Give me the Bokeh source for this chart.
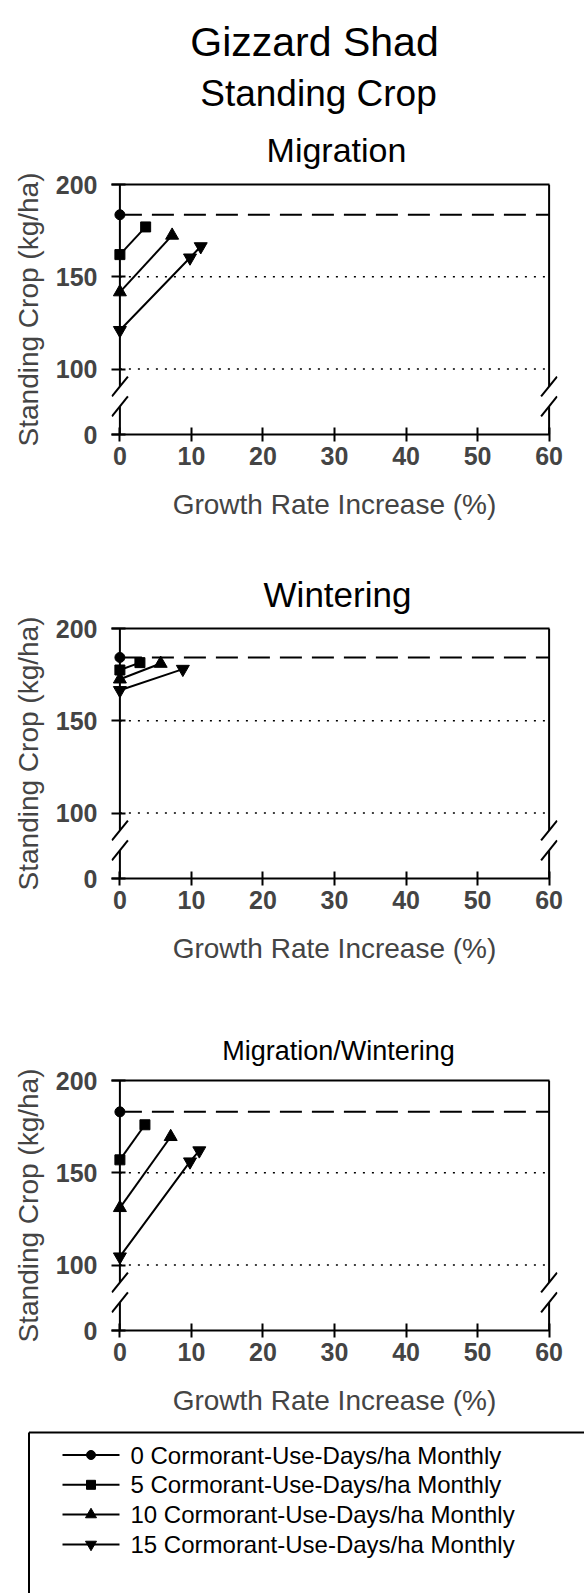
from bokeh.plotting import figure
from bokeh.models import Range1d, FixedTicker, LinearAxis
from bokeh.layouts import column
from bokeh.core.properties import value
from bokeh.embed import file_html
from bokeh.resources import INLINE

FONT = "Liberation Sans"
W = 584

# ---- axes -------------------------------------------------------------
x_ticks = [0, 10, 20, 30, 40, 50, 60]
y_major = [100, 150, 200]          # values shown above the axis break
y_grid = [100, 150]                # dotted reference levels
Y_ZERO = 64.5                      # plotted position of "0" below the break
BREAK_LO, BREAK_HI = 79.7, 90.5    # the two break slashes on the y axis

# ---- series (growth-rate increase %, standing crop kg/ha) -------------
cud_labels = [
    "0 Cormorant-Use-Days/ha Monthly",
    "5 Cormorant-Use-Days/ha Monthly",
    "10 Cormorant-Use-Days/ha Monthly",
    "15 Cormorant-Use-Days/ha Monthly",
]
cud_markers = ["circle", "square", "triangle", "inverted_triangle"]
marker_sizes = [10, 10, 13, 13]
legend_marker_sizes = [9, 9, 11, 11]

migration_x = [[0], [0, 3.6], [0, 7.3], [0, 9.8, 11.3]]
migration_y = [[183.6], [162.0, 177.0], [141.7, 172.4], [121.0, 160.3, 166.4]]

wintering_x = [[0], [0, 2.8], [0, 5.7], [0, 8.8]]
wintering_y = [[184.3], [177.5, 181.5], [172.5, 181.0], [166.5, 178.0]]

migwin_x = [[0], [0, 3.5], [0, 7.1], [0, 9.8, 11.1]]
migwin_y = [[183.0], [157.0, 176.0], [131.0, 169.5], [104.5, 156.0, 162.0]]

main_titles = ["Gizzard Shad", "Standing Crop"]
panel_titles = ["Migration", "Wintering", "Migration/Wintering"]

# ---- geometry ---------------------------------------------------------
PX_PER_X = 429.2 / 60.0
X_PAD = 8.4 / PX_PER_X             # room left/right of the 0..60 box
X_START, X_END = x_ticks[0] - X_PAD, x_ticks[-1] + X_PAD
SLASH_DX = 8.0 / PX_PER_X
SLASH_DY = 5.4


def free_frame(p):
    # keep each plot's frame independent of its neighbours in the column
    if "frame_align" in p.properties():
        p.frame_align = False


def text_strip(height):
    """A plain drawing area measured in pixels from its top-left corner."""
    h = figure(width=W, height=height, output_backend="svg", toolbar_location=None,
               x_range=Range1d(0, W), y_range=Range1d(height, 0),
               x_axis_location=None, y_axis_location=None,
               min_border_left=0, min_border_right=0, min_border_top=0, min_border_bottom=0)
    h.outline_line_color = None
    h.grid.visible = False
    h.background_fill_color = "white"
    h.border_fill_color = "white"
    free_frame(h)
    return h


def put_text(h, x, y, txt, size, align="center"):
    h.text(x=[x], y=[y], text=[txt], text_font=value(FONT), text_font_size=value(size),
           text_align=align, text_baseline="middle", text_color="black")


def make_panel(xs, ys, height, top, bottom):
    p = figure(width=W, height=height, output_backend="svg", toolbar_location=None,
               x_range=Range1d(X_START, X_END), y_range=Range1d(Y_ZERO, y_major[-1]),
               min_border_left=111, min_border_right=27,
               min_border_top=top, min_border_bottom=bottom)
    free_frame(p)
    p.outline_line_color = None
    p.grid.visible = False
    p.background_fill_color = "white"
    p.border_fill_color = "white"

    xa = p.xaxis[0]
    xa.ticker = FixedTicker(ticks=x_ticks)
    xa.bounds = (X_START, x_ticks[-1])
    xa.axis_line_width = 2
    xa.major_tick_line_width = 2
    xa.major_tick_in = 7
    xa.major_tick_out = 7
    xa.minor_tick_line_color = None
    xa.major_label_text_font = FONT
    xa.major_label_text_font_size = "25px"
    xa.major_label_text_font_style = "bold"
    xa.major_label_standoff = 5
    xa.axis_label = "Growth Rate Increase (%)"
    xa.axis_label_text_font = FONT
    xa.axis_label_text_font_size = "28px"
    xa.axis_label_text_font_style = "normal"
    xa.axis_label_standoff = 21

    ya = p.yaxis[0]
    ya.ticker = FixedTicker(ticks=[Y_ZERO] + y_major)
    ya.major_label_overrides = {Y_ZERO: "0"}
    ya.axis_line_color = None
    ya.major_tick_line_width = 2
    ya.major_tick_in = 14
    ya.major_tick_out = 0
    ya.minor_tick_line_color = None
    ya.major_label_text_font = FONT
    ya.major_label_text_font_size = "25px"
    ya.major_label_text_font_style = "bold"
    ya.major_label_standoff = 14
    ya.axis_label = "Standing Crop (kg/ha)"
    ya.axis_label_text_font = FONT
    ya.axis_label_text_font_size = "28px"
    ya.axis_label_text_font_style = "normal"
    ya.axis_label_standoff = 9

    # top edge of the box
    top_ax = LinearAxis(ticker=FixedTicker(ticks=[]), bounds=(X_START, x_ticks[-1]),
                        axis_line_width=2, major_tick_in=0, major_tick_out=0,
                        minor_tick_line_color=None, major_label_text_font_size="0px",
                        major_label_standoff=0)
    p.add_layout(top_ax, "above")

    x_lo, x_hi = x_ticks[0], x_ticks[-1]
    # left spine and right edge, interrupted by the axis break
    p.segment(x0=[x_lo, x_lo, x_hi, x_hi], x1=[x_lo, x_lo, x_hi, x_hi],
              y0=[Y_ZERO, BREAK_HI, Y_ZERO, BREAK_HI],
              y1=[BREAK_LO, y_major[-1], BREAK_LO, y_major[-1]],
              line_width=2, line_color="black")
    # break slashes
    cx = [x_lo, x_lo, x_hi, x_hi]
    cy = [BREAK_LO, BREAK_HI, BREAK_LO, BREAK_HI]
    p.segment(x0=[c - SLASH_DX for c in cx], y0=[c - SLASH_DY for c in cy],
              x1=[c + SLASH_DX for c in cx], y1=[c + SLASH_DY for c in cy],
              line_width=2, line_color="black")

    # dotted levels
    p.segment(x0=[x_lo] * len(y_grid), x1=[x_hi] * len(y_grid), y0=y_grid, y1=y_grid,
              line_width=1.6, line_color="black", line_dash="2 7")

    # no-predation standing crop carried across as a dashed line
    base = ys[0][0]
    p.segment(x0=[x_lo], x1=[x_hi], y0=[base], y1=[base],
              line_width=2, line_color="black", line_dash="22 10")

    for sx, sy, mk, sz in zip(xs, ys, cud_markers, marker_sizes):
        p.line(sx, sy, line_width=2, line_color="black")
        p.scatter(sx, sy, marker=mk, size=sz, fill_color="black", line_color="black")
    return p


# ---- titles and panels --------------------------------------------------
h1 = text_strip(170)
put_text(h1, 314, 41, main_titles[0], "41px")
put_text(h1, 318, 92.5, main_titles[1], "37px")
put_text(h1, 336, 149.5, panel_titles[0], "34px")

p1 = make_panel(migration_x, migration_y, 385, 14, 121)

h2 = text_strip(59)
put_text(h2, 337, 39, panel_titles[1], "35px")

p2 = make_panel(wintering_x, wintering_y, 391, 14, 127)

h3 = text_strip(61)
put_text(h3, 338, 45, panel_titles[2], "27px")

p3 = make_panel(migwin_x, migwin_y, 354, 14, 90)

# ---- legend -------------------------------------------------------------
leg = text_strip(173)
BOX_L, BOX_T = 28.5, 12
leg.segment(x0=[BOX_L, BOX_L], y0=[BOX_T, BOX_T], x1=[W, BOX_L], y1=[BOX_T, 173],
            line_width=2, line_color="black")
row_y = [34.5 + 29.8 * i for i in range(len(cud_labels))]
leg.segment(x0=[62] * len(row_y), x1=[119] * len(row_y), y0=row_y, y1=row_y,
            line_width=2, line_color="black")
for yy, mk, sz, lab in zip(row_y, cud_markers, legend_marker_sizes, cud_labels):
    leg.scatter([90.5], [yy], marker=mk, size=sz, fill_color="black", line_color="black")
    put_text(leg, 130, yy, lab, "24px", align="left")

layout = column(h1, p1, h2, p2, h3, p3, leg, spacing=0)

open("out.html", "w").write(file_html(layout, INLINE))
